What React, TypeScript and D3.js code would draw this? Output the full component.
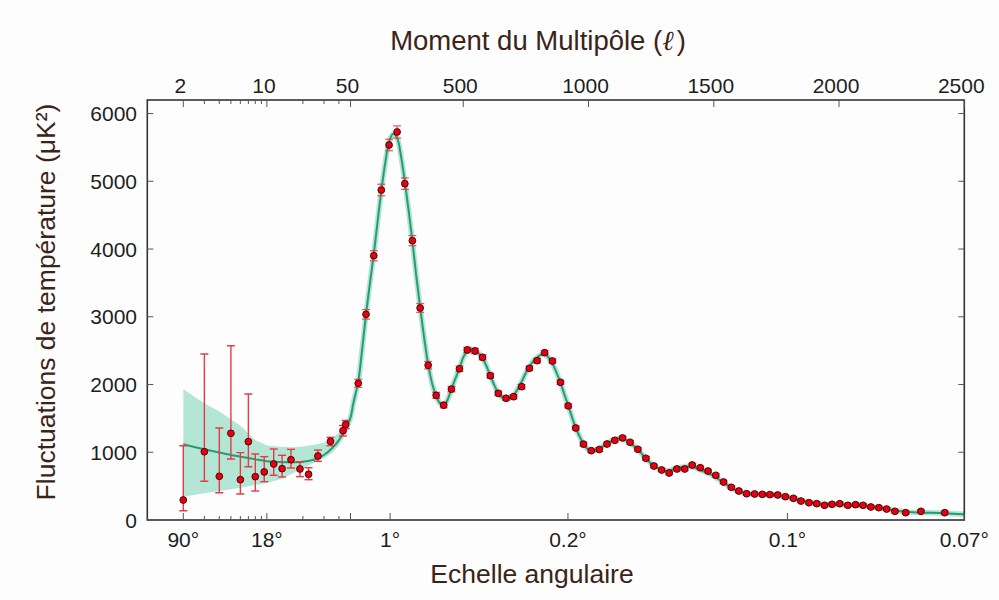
import React from "react";
import * as d3 from "d3";

// ---- Axis ticks ----
const topTicks = [2, 10, 50, 500, 1000, 1500, 2000, 2500];
const minorTicks = [3, 4, 5, 6, 7, 8, 9, 20, 30, 40];
const bottomTickLabels = ["90°", "18°", "1°", "0.2°", "0.1°", "0.07°"];
const bottomTickL = [2, 10, 208, 918, 1794, 2500];
const yTicks = [0, 1000, 2000, 3000, 4000, 5000, 6000];

// ---- Low-ℓ data points (asymmetric errors) ----
const lowL = [2, 3, 4, 5, 6, 7, 8, 9.5, 11.4, 13.4, 15.9, 18.9, 22.3, 26.7, 34, 43.3, 45.6];
const lowD = [295, 1008, 645, 1280, 595, 1156, 640, 709, 827, 758, 890, 753, 675, 945, 1161, 1318, 1410];
const lowUp = [1097, 2450, 1358, 2573, 994, 1860, 974, 935, 1048, 955, 1043, 861, 772, 1033, 1220, 1395, 1470];
const lowLo = [137, 571, 403, 900, 384, 787, 428, 566, 660, 635, 768, 640, 595, 866, 1097, 1241, 1350];

// ---- High-ℓ binned data points ----
const highL = [81, 112, 143, 173, 204, 236, 267, 297, 328, 360, 392, 422, 453, 485, 516, 547, 577, 608, 640, 671, 701, 733, 764, 795, 825, 856, 888, 919, 949, 980, 1011, 1043, 1074, 1105, 1136, 1166, 1197, 1229, 1261, 1292, 1322, 1353, 1384, 1414, 1446, 1477, 1508, 1539, 1570, 1600, 1631, 1663, 1694, 1724, 1755, 1786, 1818, 1848, 1880, 1911, 1942, 1972, 2003, 2035, 2066, 2096, 2127, 2159, 2190, 2223, 2266, 2327, 2422];
const highD = [2018, 3036, 3902, 4871, 5536, 5728, 4965, 4124, 3130, 2285, 1840, 1695, 1932, 2232, 2510, 2495, 2402, 2130, 1870, 1797, 1820, 1968, 2239, 2352, 2470, 2347, 2033, 1685, 1358, 1120, 1023, 1040, 1122, 1176, 1211, 1147, 1044, 911, 797, 738, 694, 753, 753, 812, 772, 723, 660, 561, 483, 428, 388, 384, 379, 375, 370, 344, 320, 280, 255, 241, 217, 232, 241, 217, 226, 217, 192, 182, 162, 128, 108, 128, 108];
const highErr = [60, 70, 75, 85, 85, 90, 85, 75, 65, 55, 45, 40, 40, 40, 40, 40, 38, 36, 34, 32, 32, 32, 32, 32, 32, 30, 30, 30, 28, 28, 26, 26, 26, 26, 26, 26, 25, 25, 24, 24, 24, 24, 24, 24, 24, 24, 24, 24, 22, 22, 22, 22, 22, 22, 22, 22, 22, 22, 22, 22, 22, 22, 22, 22, 22, 22, 22, 22, 22, 22, 22, 22, 22];

// ---- Best-fit model curve ----
const modelL = [2, 3, 4, 5, 6, 8, 10, 13, 16, 20, 25, 30, 35, 40, 45, 50, 60, 70, 81, 96, 112, 127, 143, 158, 173, 189, 204, 220, 236, 252, 267, 282, 297, 312, 328, 344, 360, 376, 392, 408, 423, 438, 453, 469, 485, 500, 516, 531, 547, 562, 577, 592, 608, 624, 640, 655, 671, 686, 701, 717, 733, 748, 764, 780, 795, 810, 825, 840, 856, 872, 888, 903, 919, 934, 949, 965, 980, 996, 1011, 1027, 1043, 1058, 1074, 1090, 1105, 1120, 1136, 1151, 1166, 1182, 1197, 1213, 1229, 1245, 1261, 1276, 1292, 1307, 1322, 1338, 1353, 1369, 1384, 1400, 1414, 1430, 1446, 1461, 1477, 1492, 1508, 1524, 1539, 1555, 1570, 1585, 1600, 1631, 1663, 1694, 1724, 1755, 1786, 1818, 1848, 1880, 1911, 1942, 1972, 2003, 2035, 2066, 2096, 2127, 2159, 2190, 2223, 2266, 2327, 2422, 2500];
const modelD = [1117, 1043, 995, 960, 935, 895, 868, 855, 852, 860, 893, 960, 1058, 1180, 1330, 1510, 1700, 1860, 2040, 2500, 3040, 3480, 3930, 4400, 4860, 5280, 5580, 5700, 5640, 5360, 4990, 4570, 4120, 3620, 3140, 2690, 2300, 2010, 1830, 1720, 1700, 1780, 1935, 2090, 2240, 2400, 2490, 2520, 2490, 2460, 2390, 2280, 2130, 1990, 1870, 1810, 1790, 1800, 1840, 1930, 2040, 2160, 2260, 2350, 2400, 2440, 2445, 2400, 2310, 2180, 2030, 1860, 1690, 1520, 1360, 1230, 1120, 1050, 1025, 1030, 1055, 1090, 1125, 1165, 1190, 1205, 1200, 1175, 1140, 1090, 1040, 975, 910, 850, 800, 765, 740, 725, 730, 750, 768, 780, 790, 790, 780, 765, 740, 715, 690, 665, 630, 590, 550, 510, 475, 445, 420, 392, 380, 375, 372, 362, 343, 318, 290, 262, 245, 233, 228, 226, 222, 218, 210, 195, 180, 162, 140, 120, 110, 100, 85];

// ---- Cosmic-variance band at low ℓ ----
const bandL = [2, 3, 4, 5, 6, 8, 10, 13, 16, 20, 25, 30, 35, 40, 45, 50];
const bandUp = [1929, 1722, 1600, 1486, 1390, 1181, 1100, 1080, 1073, 1085, 1110, 1140, 1200, 1290, 1420, 1590];
const bandLo = [344, 394, 428, 453, 475, 515, 545, 600, 680, 760, 850, 910, 990, 1100, 1250, 1440];

const W = 999;
const H = 600;
const L = 147.3;
const R = 964.3;
const T = 100;
const B = 520;
const JOIN = 350.5;

const xLog = d3.scaleLog().domain([1, 50]).range([L, JOIN]);
const xLin = d3.scaleLinear().domain([50, 2500]).range([JOIN, R]);
const x = (l: number) => (l <= 50 ? xLog(l) : xLin(l));
const y = d3.scaleLinear().domain([0, 6200]).range([B, T]);

const FONT = "'Liberation Sans', Arial, sans-serif";
const TITLE_COLOR = "#3b2417";
const TICK_COLOR = "#1e1e1e";
const BAR_COLOR = "#e23c46";
const DOT_FILL = "#e80010";
const DOT_STROKE = "#3a0505";
const LINE_COLOR = "#2a9a74";
const BAND_COLOR = "#b4e6d5";

export default function App() {
  const modelPts: [number, number][] = modelL.map((l, i) => [l, modelD[i]]);
  const line = d3
    .line<[number, number]>()
    .x((d) => x(d[0]))
    .y((d) => y(d[1]))
    .curve(d3.curveCatmullRom.alpha(0.5));
  const area = d3
    .area<number>()
    .x((_, i) => x(bandL[i]))
    .y0((_, i) => y(bandLo[i]))
    .y1((_, i) => y(bandUp[i]));

  const cap = 4;
  const bars: JSX.Element[] = [];
  const dots: JSX.Element[] = [];
  lowL.forEach((l, i) => {
    const cx = x(l);
    bars.push(
      <g key={"lb" + i} stroke={BAR_COLOR} strokeWidth={1.4}>
        <line x1={cx} x2={cx} y1={y(lowLo[i])} y2={y(lowUp[i])} />
        <line x1={cx - cap} x2={cx + cap} y1={y(lowLo[i])} y2={y(lowLo[i])} />
        <line x1={cx - cap} x2={cx + cap} y1={y(lowUp[i])} y2={y(lowUp[i])} />
      </g>
    );
    dots.push(<circle key={"ld" + i} cx={cx} cy={y(lowD[i])} r={3.4} fill={DOT_FILL} stroke={DOT_STROKE} strokeWidth={0.9} />);
  });
  highL.forEach((l, i) => {
    const cx = x(l);
    const lo = highD[i] - highErr[i];
    const hi = highD[i] + highErr[i];
    bars.push(
      <g key={"hb" + i} stroke={BAR_COLOR} strokeWidth={1.2} opacity={0.85}>
        <line x1={cx} x2={cx} y1={y(lo)} y2={y(hi)} />
        <line x1={cx - cap} x2={cx + cap} y1={y(lo)} y2={y(lo)} />
        <line x1={cx - cap} x2={cx + cap} y1={y(hi)} y2={y(hi)} />
      </g>
    );
    dots.push(<circle key={"hd" + i} cx={cx} cy={y(highD[i])} r={3.4} fill={DOT_FILL} stroke={DOT_STROKE} strokeWidth={0.9} />);
  });

  const tickEls: JSX.Element[] = [];
  topTicks.forEach((t, i) => {
    const tx = x(t);
    tickEls.push(<line key={"tt" + i} x1={tx} x2={tx} y1={T} y2={T + 7} stroke="#555" strokeWidth={1} />);
    tickEls.push(
      <text key={"ttl" + i} x={tx - 3} y={93} textAnchor="middle" fontFamily={FONT} fontSize={21} fill={TICK_COLOR}>
        {t}
      </text>
    );
  });
  minorTicks.forEach((t, i) => {
    const tx = x(t);
    tickEls.push(<line key={"tm" + i} x1={tx} x2={tx} y1={T} y2={T + 4} stroke="#555" strokeWidth={1} />);
    tickEls.push(<line key={"bm" + i} x1={tx} x2={tx} y1={B} y2={B - 4} stroke="#555" strokeWidth={1} />);
  });
  [...bottomTickL, 50].forEach((t, i) => {
    const tx = x(t);
    tickEls.push(<line key={"bt" + i} x1={tx} x2={tx} y1={B} y2={B - 7} stroke="#555" strokeWidth={1} />);
  });
  bottomTickLabels.forEach((lab, i) => {
    const tx = x(bottomTickL[i]);
    tickEls.push(
      <text key={"btl" + i} x={tx} y={547} textAnchor="middle" fontFamily={FONT} fontSize={21} fill={TICK_COLOR}>
        {lab}
      </text>
    );
  });
  yTicks.forEach((t, i) => {
    const ty = y(t);
    tickEls.push(<line key={"yl" + i} x1={L} x2={L + 6} y1={ty} y2={ty} stroke="#555" strokeWidth={1} />);
    tickEls.push(<line key={"yr" + i} x1={R} x2={R - 6} y1={ty} y2={ty} stroke="#555" strokeWidth={1} />);
    tickEls.push(
      <text key={"ytl" + i} x={137} y={ty} dy="0.36em" textAnchor="end" fontFamily={FONT} fontSize={21} fill={TICK_COLOR}>
        {t}
      </text>
    );
  });

  return (
    <svg width={W} height={H} style={{ position: "absolute", left: 0, top: 0, background: "#fdfdfd" }}>
      <rect x={0} y={0} width={W} height={H} fill="#fdfdfd" />
      <defs>
        <clipPath id="plotClip">
          <rect x={L} y={T} width={R - L} height={B - T} />
        </clipPath>
      </defs>
      <g clipPath="url(#plotClip)">
        <path d={area(bandL) || ""} fill={BAND_COLOR} />
        <path d={line(modelPts) || ""} fill="none" stroke={BAND_COLOR} strokeWidth={5.5} strokeLinejoin="round" />
        <path d={line(modelPts) || ""} fill="none" stroke={LINE_COLOR} strokeWidth={2} />
        {bars}
        {dots}
      </g>
      <rect x={L} y={T} width={R - L} height={B - T} fill="none" stroke="#333" strokeWidth={1.6} />
      {tickEls}
      <text x={538} y={50} textAnchor="middle" fontFamily={FONT} fontSize={27.5} fill={TITLE_COLOR}>
        Moment du Multipôle (
        <tspan fontFamily="'DejaVu Serif', serif" fontStyle="italic">ℓ</tspan>
        <tspan dx={3}>)</tspan>
      </text>
      <text x={532} y={583} textAnchor="middle" fontFamily={FONT} fontSize={26.5} fill={TITLE_COLOR}>
        Echelle angulaire
      </text>
      <text
        transform="translate(55,302) rotate(-90)"
        textAnchor="middle"
        fontFamily={FONT}
        fontSize={26.5}
        fill={TITLE_COLOR}
      >
        Fluctuations de température (μK²)
      </text>
    </svg>
  );
}
